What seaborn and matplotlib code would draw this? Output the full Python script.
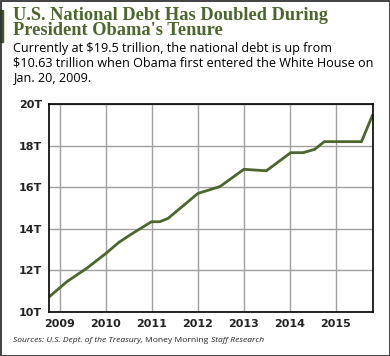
import matplotlib
matplotlib.use("Agg")
import matplotlib.pyplot as plt
import seaborn as sns
import pandas as pd
from matplotlib.patches import Rectangle

# debt (trillions of dollars)
years = [2008.77, 2009.15, 2009.58, 2010.0, 2010.27, 2010.52, 2010.99, 2011.17,
         2011.35, 2012.0, 2012.48, 2013.0, 2013.49, 2014.02, 2014.29, 2014.54,
         2014.75, 2015.56, 2015.80]
debt = [10.74, 11.46, 12.1, 12.82, 13.33, 13.7, 14.34, 14.34,
        14.5, 15.7, 16.03, 16.86, 16.79, 17.66, 17.66, 17.82,
        18.19, 18.19, 19.47]
year_ticks = [2009, 2010, 2011, 2012, 2013, 2014, 2015]
debt_ticks = [10, 12, 14, 16, 18, 20]

df = pd.DataFrame({"year": years, "debt": debt})

green = "#4b672c"

sns.set_style("white")
fig = plt.figure(figsize=(3.9, 3.56), dpi=100)
ax = fig.add_axes([49 / 390, 44 / 356, 324 / 390, 208 / 356])

sns.lineplot(data=df, x="year", y="debt", ax=ax, color=green, linewidth=2)

ax.set_xlim(2008.76, 2015.81)
ax.set_ylim(10, 20)
ax.set_xticks(year_ticks)
ax.set_xticklabels([str(y) for y in year_ticks])
ax.set_yticks(debt_ticks)
ax.set_yticklabels([f"{v}T" for v in debt_ticks])
ax.grid(True, color="#a0a0a0", linewidth=1)
ax.tick_params(length=0, labelsize=8, pad=5)
for lab in ax.get_xticklabels() + ax.get_yticklabels():
    lab.set_fontweight("bold")
    lab.set_color("#222222")
ax.set_xlabel("")
ax.set_ylabel("")
for s in ax.spines.values():
    s.set_color("black")
    s.set_linewidth(1.2)

# header
fig.text(13 / 390, 1 - 7 / 356, "U.S. National Debt Has Doubled During\nPresident Obama's Tenure",
         family="Liberation Serif", fontweight="bold", fontsize=13.2, color=green,
         va="top", ha="left", linespacing=0.85)
fig.text(13 / 390, 1 - 42 / 356,
         "Currently at $19.5 trillion, the national debt is up from\n"
         "$10.63 trillion when Obama first entered the White House on\n"
         "Jan. 20, 2009.",
         family="Open Sans", fontsize=9.1, color="black", va="top", ha="left",
         linespacing=1.13)

# source line: mixed italic / upright pieces
fig.canvas.draw()
r = fig.canvas.get_renderer()
x0 = 13 / 390
for piece, st in [("Sources: U.S. Dept. of the Treasury, ", "italic"),
                  ("Money Morning ", "normal"),
                  ("Staff Research", "italic")]:
    t = fig.text(x0, 1 - 340 / 356, piece, family="Open Sans", fontsize=6.1,
                 style=st, color="#222222", va="center", ha="left")
    bb = t.get_window_extent(renderer=r)
    x0 += bb.width / fig.bbox.width

# side bar and frame
fig.patches.append(Rectangle((0, 1 - 42 / 356), 3 / 390, 32 / 356,
                             transform=fig.transFigure, color="#3e5524"))
fig.patches.append(Rectangle((0.5 / 390, 0.5 / 356), 389 / 390, 355 / 356,
                             transform=fig.transFigure, fill=False,
                             edgecolor="#333333", linewidth=1.3))

fig.savefig("out.png", dpi=100)
